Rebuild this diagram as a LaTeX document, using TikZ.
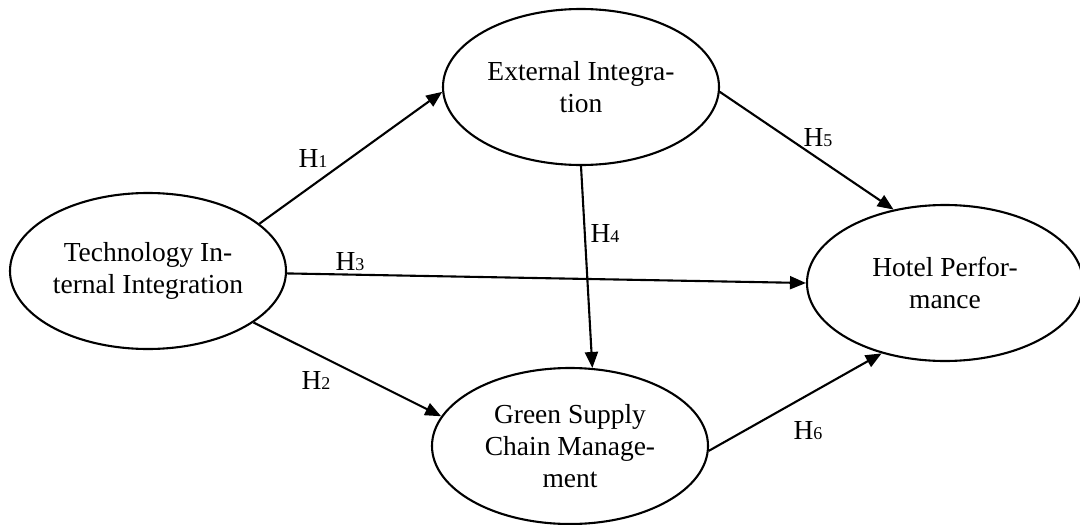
\documentclass[tikz,border=0pt]{standalone}
\usepackage{fontspec}
\setmainfont{Liberation Serif}
\usetikzlibrary{shapes.geometric,arrows.meta}
\begin{document}
\begin{tikzpicture}[x=1pt,y=-1pt,
  construct/.style={ellipse,draw,line width=2.1pt,minimum width=276pt,minimum height=156pt,inner sep=0pt,align=center,font=\fontsize{27.5}{32}\selectfont},
  link/.style={line width=2.1pt,-{Triangle[length=16pt,width=13pt]}},
  hyp/.style={inner sep=0pt,font=\fontsize{27.5}{32}\selectfont}]
\useasboundingbox (0,0) rectangle (1080,525);
\node[construct] (tech) at (148,271) {Technology In-\\ternal Integration};
\node[construct] (ext) at (581,87) {External Integra-\\tion};
\node[construct] (hotel) at (945,283) {Hotel Perfor-\\mance};
\node[construct] (green) at (570,446) {Green Supply\\Chain Manage-\\ment};
\draw[link] (tech.23) -- (ext.182.5);
\draw[link] (tech.-26.6) -- (green.167.7);
\draw[link] (tech.-1.2) -- (hotel.180);
\draw[link] (ext.270.7) -- (green.74);
\draw[link] (ext.-2.8) -- (hotel.125);
\draw[link] (green.-2.5) -- (hotel.228.7);
\node[hyp] (h1) at (313,158) {H{\fontsize{18}{20}\selectfont 1}};
\node[hyp] (h2) at (316,380) {H{\fontsize{18}{20}\selectfont 2}};
\node[hyp] (h3) at (350,262) {H{\fontsize{18}{20}\selectfont 3}};
\node[hyp] (h4) at (605,233) {H{\fontsize{18}{20}\selectfont 4}};
\node[hyp] (h5) at (818,138) {H{\fontsize{18}{20}\selectfont 5}};
\node[hyp] (h6) at (808,431) {H{\fontsize{18}{20}\selectfont 6}};
\end{tikzpicture}
\end{document}
